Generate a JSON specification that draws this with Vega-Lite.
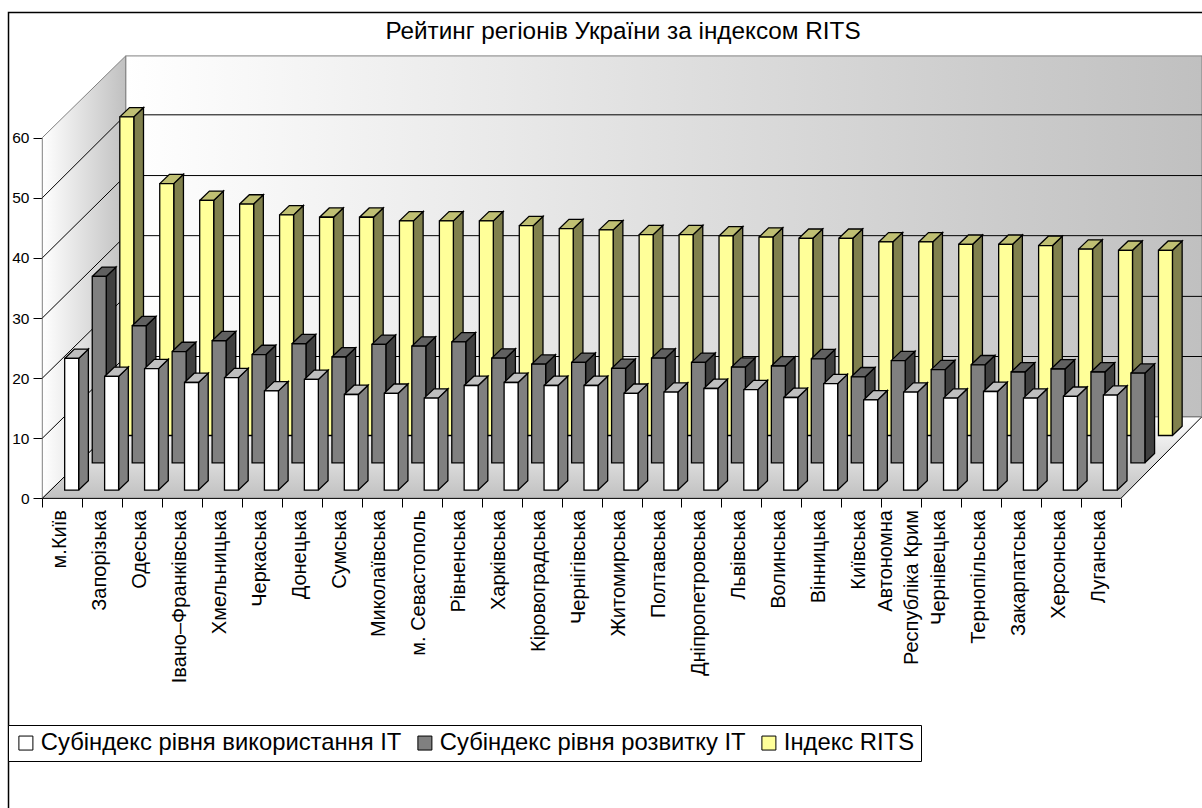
{"$schema":"https://vega.github.io/schema/vega-lite/v6.json","width":1202,"height":808,"autosize":{"type":"none"},"padding":0,"background":"white","config":{"view":{"stroke":null},"font":"Liberation Sans"},
"title":{"text":"Рейтинг регіонів України за індексом RITS","anchor":"middle","frame":"group","orient":"top","offset":-44,"dx":22,"font":"Liberation Sans","fontSize":24.3,"fontWeight":"normal","color":"black"},
"datasets":{
"walls":[
{"wall":"side","c":0,"u":0,"v":0},{"wall":"side","c":1,"u":0,"v":60},{"wall":"side","c":2,"u":2.088,"v":73.6},{"wall":"side","c":3,"u":2.088,"v":13.6},{"wall":"side","c":4,"u":0,"v":0},
{"wall":"back","c":0,"u":2.088,"v":13.6},{"wall":"back","c":1,"u":2.088,"v":73.6},{"wall":"back","c":2,"u":29.03,"v":73.6},{"wall":"back","c":3,"u":29.03,"v":13.6},{"wall":"back","c":4,"u":2.088,"v":13.6},
{"wall":"floor","c":0,"u":0,"v":0},{"wall":"floor","c":1,"u":2.088,"v":13.6},{"wall":"floor","c":2,"u":29.03,"v":13.6},{"wall":"floor","c":3,"u":27,"v":0},{"wall":"floor","c":4,"u":0,"v":0},
{"wall":"edge","c":0,"u":2.088,"v":13.6},{"wall":"edge","c":1,"u":29.03,"v":13.6},
{"wall":"frame","c":0,"u":-0.846,"v":-51.5},{"wall":"frame","c":1,"u":-0.846,"v":80.83},{"wall":"frame","c":2,"u":29.03,"v":80.83}
],
"grid":[
{"level":10,"c":0,"u":0,"v":10},{"level":10,"c":1,"u":2.088,"v":23.6},{"level":10,"c":2,"u":29.03,"v":23.6},
{"level":20,"c":0,"u":0,"v":20},{"level":20,"c":1,"u":2.088,"v":33.6},{"level":20,"c":2,"u":29.03,"v":33.6},
{"level":30,"c":0,"u":0,"v":30},{"level":30,"c":1,"u":2.088,"v":43.7},{"level":30,"c":2,"u":29.03,"v":43.7},
{"level":40,"c":0,"u":0,"v":40},{"level":40,"c":1,"u":2.088,"v":53.7},{"level":40,"c":2,"u":29.03,"v":53.7},
{"level":50,"c":0,"u":0,"v":50},{"level":50,"c":1,"u":2.088,"v":63.8},{"level":50,"c":2,"u":29.03,"v":63.8}
],
"bars":[
{"n":0,"region":"м.Київ","series":"Субіндекс рівня використання IT","value":21.9},{"n":0,"region":"м.Київ","series":"Субіндекс рівня розвитку IT","value":31.0},{"n":0,"region":"м.Київ","series":"Індекс RITS","value":53.0},
{"n":1,"region":"Запорізька","series":"Субіндекс рівня використання IT","value":18.9},{"n":1,"region":"Запорізька","series":"Субіндекс рівня розвитку IT","value":22.8},{"n":1,"region":"Запорізька","series":"Індекс RITS","value":41.9},
{"n":2,"region":"Одеська","series":"Субіндекс рівня використання IT","value":20.2},{"n":2,"region":"Одеська","series":"Субіндекс рівня розвитку IT","value":18.5},{"n":2,"region":"Одеська","series":"Індекс RITS","value":39.1},
{"n":3,"region":"Івано–Франківська","series":"Субіндекс рівня використання IT","value":17.9},{"n":3,"region":"Івано–Франківська","series":"Субіндекс рівня розвитку IT","value":20.3},{"n":3,"region":"Івано–Франківська","series":"Індекс RITS","value":38.5},
{"n":4,"region":"Хмельницька","series":"Субіндекс рівня використання IT","value":18.7},{"n":4,"region":"Хмельницька","series":"Субіндекс рівня розвитку IT","value":18.0},{"n":4,"region":"Хмельницька","series":"Індекс RITS","value":36.7},
{"n":5,"region":"Черкаська","series":"Субіндекс рівня використання IT","value":16.5},{"n":5,"region":"Черкаська","series":"Субіндекс рівня розвитку IT","value":19.8},{"n":5,"region":"Черкаська","series":"Індекс RITS","value":36.3},
{"n":6,"region":"Донецька","series":"Субіндекс рівня використання IT","value":18.4},{"n":6,"region":"Донецька","series":"Субіндекс рівня розвитку IT","value":17.6},{"n":6,"region":"Донецька","series":"Індекс RITS","value":36.3},
{"n":7,"region":"Сумська","series":"Субіндекс рівня використання IT","value":15.9},{"n":7,"region":"Сумська","series":"Субіндекс рівня розвитку IT","value":19.7},{"n":7,"region":"Сумська","series":"Індекс RITS","value":35.7},
{"n":8,"region":"Миколаївська","series":"Субіндекс рівня використання IT","value":16.1},{"n":8,"region":"Миколаївська","series":"Субіндекс рівня розвитку IT","value":19.4},{"n":8,"region":"Миколаївська","series":"Індекс RITS","value":35.7},
{"n":9,"region":"м. Севастополь","series":"Субіндекс рівня використання IT","value":15.3},{"n":9,"region":"м. Севастополь","series":"Субіндекс рівня розвитку IT","value":20.1},{"n":9,"region":"м. Севастополь","series":"Індекс RITS","value":35.7},
{"n":10,"region":"Рівненська","series":"Субіндекс рівня використання IT","value":17.4},{"n":10,"region":"Рівненська","series":"Субіндекс рівня розвитку IT","value":17.4},{"n":10,"region":"Рівненська","series":"Індекс RITS","value":34.9},
{"n":11,"region":"Харківська","series":"Субіндекс рівня використання IT","value":17.9},{"n":11,"region":"Харківська","series":"Субіндекс рівня розвитку IT","value":16.4},{"n":11,"region":"Харківська","series":"Індекс RITS","value":34.4},
{"n":12,"region":"Кіровоградська","series":"Субіндекс рівня використання IT","value":17.4},{"n":12,"region":"Кіровоградська","series":"Субіндекс рівня розвитку IT","value":16.7},{"n":12,"region":"Кіровоградська","series":"Індекс RITS","value":34.2},
{"n":13,"region":"Чернігівська","series":"Субіндекс рівня використання IT","value":17.4},{"n":13,"region":"Чернігівська","series":"Субіндекс рівня розвитку IT","value":15.7},{"n":13,"region":"Чернігівська","series":"Індекс RITS","value":33.4},
{"n":14,"region":"Житомирська","series":"Субіндекс рівня використання IT","value":16.1},{"n":14,"region":"Житомирська","series":"Субіндекс рівня розвитку IT","value":17.4},{"n":14,"region":"Житомирська","series":"Індекс RITS","value":33.4},
{"n":15,"region":"Полтавська","series":"Субіндекс рівня використання IT","value":16.3},{"n":15,"region":"Полтавська","series":"Субіндекс рівня розвитку IT","value":16.7},{"n":15,"region":"Полтавська","series":"Індекс RITS","value":33.2},
{"n":16,"region":"Дніпропетровська","series":"Субіндекс рівня використання IT","value":16.9},{"n":16,"region":"Дніпропетровська","series":"Субіндекс рівня розвитку IT","value":15.9},{"n":16,"region":"Дніпропетровська","series":"Індекс RITS","value":33.0},
{"n":17,"region":"Львівська","series":"Субіндекс рівня використання IT","value":16.7},{"n":17,"region":"Львівська","series":"Субіндекс рівня розвитку IT","value":16.1},{"n":17,"region":"Львівська","series":"Індекс RITS","value":32.8},
{"n":18,"region":"Волинська","series":"Субіндекс рівня використання IT","value":15.4},{"n":18,"region":"Волинська","series":"Субіндекс рівня розвитку IT","value":17.3},{"n":18,"region":"Волинська","series":"Індекс RITS","value":32.8},
{"n":19,"region":"Вінницька","series":"Субіндекс рівня використання IT","value":17.7},{"n":19,"region":"Вінницька","series":"Субіндекс рівня розвитку IT","value":14.3},{"n":19,"region":"Вінницька","series":"Індекс RITS","value":32.2},
{"n":20,"region":"Київська","series":"Субіндекс рівня використання IT","value":15.0},{"n":20,"region":"Київська","series":"Субіндекс рівня розвитку IT","value":17.0},{"n":20,"region":"Київська","series":"Індекс RITS","value":32.2},
{"n":21,"region":"Автономна\nРеспубліка Крим","series":"Субіндекс рівня використання IT","value":16.3},{"n":21,"region":"Автономна\nРеспубліка Крим","series":"Субіндекс рівня розвитку IT","value":15.5},{"n":21,"region":"Автономна\nРеспубліка Крим","series":"Індекс RITS","value":31.8},
{"n":22,"region":"Чернівецька","series":"Субіндекс рівня використання IT","value":15.3},{"n":22,"region":"Чернівецька","series":"Субіндекс рівня розвитку IT","value":16.3},{"n":22,"region":"Чернівецька","series":"Індекс RITS","value":31.8},
{"n":23,"region":"Тернопільська","series":"Субіндекс рівня використання IT","value":16.4},{"n":23,"region":"Тернопільська","series":"Субіндекс рівня розвитку IT","value":15.1},{"n":23,"region":"Тернопільська","series":"Індекс RITS","value":31.6},
{"n":24,"region":"Закарпатська","series":"Субіндекс рівня використання IT","value":15.3},{"n":24,"region":"Закарпатська","series":"Субіндекс рівня розвитку IT","value":15.6},{"n":24,"region":"Закарпатська","series":"Індекс RITS","value":31.0},
{"n":25,"region":"Херсонська","series":"Субіндекс рівня використання IT","value":15.6},{"n":25,"region":"Херсонська","series":"Субіндекс рівня розвитку IT","value":15.1},{"n":25,"region":"Херсонська","series":"Індекс RITS","value":30.8},
{"n":26,"region":"Луганська","series":"Субіндекс рівня використання IT","value":15.8},{"n":26,"region":"Луганська","series":"Субіндекс рівня розвитку IT","value":14.9},{"n":26,"region":"Луганська","series":"Індекс RITS","value":30.8}
]},
"resolve":{"axis":{"x":"independent","y":"independent"}},
"layer":[
{"data":{"name":"walls"},"transform":[{"filter":"datum.wall==='back'"}],"mark":{"type":"line","fill":{"gradient":"linear","x1":0,"y1":0,"x2":1,"y2":0,"stops":[{"offset":0,"color":"#ffffff"},{"offset":1,"color":"#c0c0c0"}]},"stroke":"#808080","strokeWidth":1},
"encoding":{"x":{"field":"u","type":"quantitative","scale":{"domain":[-1.059,29.03],"nice":false,"zero":false},"axis":{"values":[0,1,2,3,4,5,6,7,8,9,10,11,12,13,14,15,16,17,18,19,20,21,22,23,24,25,26,27],"labels":false,"domain":false,"grid":false,"title":null,"orient":"bottom","offset":-310,"tickSize":9,"tickColor":"black","tickWidth":1}},"y":{"field":"v","type":"quantitative","scale":{"domain":[-51.5,82.9],"nice":false,"zero":false},"axis":{"values":[0,10,20,30,40,50,60],"domain":false,"grid":false,"title":null,"orient":"left","offset":-42,"tickSize":9,"tickColor":"black","tickWidth":1,"labelFont":"Liberation Sans","labelFontSize":15.5,"labelColor":"black","labelPadding":4}},"order":{"field":"c"}}},
{"data":{"name":"walls"},"transform":[{"filter":"datum.wall==='side'"}],"mark":{"type":"line","fill":{"gradient":"linear","x1":0,"y1":0,"x2":1,"y2":0,"stops":[{"offset":0,"color":"#ffffff"},{"offset":1,"color":"#c0c0c0"}]},"stroke":"#808080","strokeWidth":1},"encoding":{"x":{"field":"u","type":"quantitative","axis":null},"y":{"field":"v","type":"quantitative","axis":null},"order":{"field":"c"}}},
{"data":{"name":"walls"},"transform":[{"filter":"datum.wall==='floor'"}],"mark":{"type":"line","fill":{"gradient":"linear","x1":0,"y1":0,"x2":0,"y2":1,"stops":[{"offset":0,"color":"#ffffff"},{"offset":1,"color":"#c0c0c0"}]},"stroke":"#000000","strokeWidth":1},"encoding":{"x":{"field":"u","type":"quantitative","axis":null},"y":{"field":"v","type":"quantitative","axis":null},"order":{"field":"c"}}},
{"data":{"name":"walls"},"transform":[{"filter":"datum.wall==='edge'"}],"mark":{"type":"line","stroke":"#808080","strokeWidth":1.2},"encoding":{"x":{"field":"u","type":"quantitative","axis":null},"y":{"field":"v","type":"quantitative","axis":null},"order":{"field":"c"}}},
{"data":{"name":"walls"},"transform":[{"filter":"datum.wall==='frame'"}],"mark":{"type":"line","stroke":"#000000","strokeWidth":1.5},"encoding":{"x":{"field":"u","type":"quantitative","axis":null},"y":{"field":"v","type":"quantitative","axis":null},"order":{"field":"c"}}},
{"data":{"name":"grid"},"mark":{"type":"line","stroke":"#000000","strokeWidth":1},"encoding":{"x":{"field":"u","type":"quantitative","axis":null},"y":{"field":"v","type":"quantitative","axis":null},"detail":{"field":"level"},"order":{"field":"c"}}},
{"data":{"name":"bars"},
"transform":[
{"calculate":"indexof(['Субіндекс рівня використання IT','Субіндекс рівня розвитку IT','Індекс RITS'],datum.series)","as":"s"},
{"calculate":"datum.n+0.56+0.69*datum.s","as":"x0"},
{"calculate":"datum.x0+0.35","as":"x1"},
{"calculate":"1.38+4.54*datum.s","as":"b"},
{"calculate":"datum.b+datum.value","as":"t"},
{"calculate":"[0,1,2,3,4]","as":"corners"},
{"flatten":["corners"],"as":["c"]},
{"calculate":"[datum.x1,datum.x1,datum.x1+0.243,datum.x1+0.243,datum.x1][datum.c]","as":"sx"},
{"calculate":"[datum.b,datum.t,datum.t+1.55,datum.b+1.55,datum.b][datum.c]","as":"sy"},
{"calculate":"[datum.x0,datum.x1,datum.x1+0.243,datum.x0+0.243,datum.x0][datum.c]","as":"tx"},
{"calculate":"[datum.t,datum.t,datum.t+1.55,datum.t+1.55,datum.t][datum.c]","as":"ty"}
],
"layer":[
{"transform":[{"filter":"datum.s===2"}],"mark":{"type":"line","fill":"#80804d","stroke":"#000","strokeWidth":1.3},"encoding":{"x":{"field":"sx","type":"quantitative","axis":null},"y":{"field":"sy","type":"quantitative","axis":null},"detail":{"field":"n"},"order":{"field":"c"}}},
{"transform":[{"filter":"datum.s===2"}],"mark":{"type":"line","fill":"#bfbf73","stroke":"#000","strokeWidth":1.3},"encoding":{"x":{"field":"tx","type":"quantitative","axis":null},"y":{"field":"ty","type":"quantitative","axis":null},"detail":{"field":"n"},"order":{"field":"c"}}},
{"transform":[{"filter":"datum.s===2&&datum.c===0"}],"mark":{"type":"rect","stroke":"#000","strokeWidth":1.3},"encoding":{"x":{"field":"x0","type":"quantitative","axis":null},"x2":{"field":"x1"},"y":{"field":"b","type":"quantitative","axis":null},"y2":{"field":"t"},"color":{"field":"series","type":"nominal","scale":{"domain":["Субіндекс рівня використання IT","Субіндекс рівня розвитку IT","Індекс RITS"],"range":["#ffffff","#808080","#ffff99"]},"legend":{"orient":"none","legendX":8,"legendY":725,"direction":"horizontal","columns":3,"title":null,"symbolType":"square","symbolSize":196,"symbolStrokeColor":"#000","symbolStrokeWidth":1,"labelFont":"Liberation Sans","labelFontSize":23.8,"labelColor":"black","labelLimit":500,"labelOffset":3,"columnPadding":11,"strokeColor":"#000","fillColor":"#fff","padding":6}}}},
{"transform":[{"filter":"datum.s===1"}],"mark":{"type":"line","fill":"#404040","stroke":"#000","strokeWidth":1.3},"encoding":{"x":{"field":"sx","type":"quantitative","axis":null},"y":{"field":"sy","type":"quantitative","axis":null},"detail":{"field":"n"},"order":{"field":"c"}}},
{"transform":[{"filter":"datum.s===1"}],"mark":{"type":"line","fill":"#606060","stroke":"#000","strokeWidth":1.3},"encoding":{"x":{"field":"tx","type":"quantitative","axis":null},"y":{"field":"ty","type":"quantitative","axis":null},"detail":{"field":"n"},"order":{"field":"c"}}},
{"transform":[{"filter":"datum.s===1&&datum.c===0"}],"mark":{"type":"rect","stroke":"#000","strokeWidth":1.3},"encoding":{"x":{"field":"x0","type":"quantitative","axis":null},"x2":{"field":"x1"},"y":{"field":"b","type":"quantitative","axis":null},"y2":{"field":"t"},"color":{"field":"series","type":"nominal"}}},
{"transform":[{"filter":"datum.s===0"}],"mark":{"type":"line","fill":"#808080","stroke":"#000","strokeWidth":1.3},"encoding":{"x":{"field":"sx","type":"quantitative","axis":null},"y":{"field":"sy","type":"quantitative","axis":null},"detail":{"field":"n"},"order":{"field":"c"}}},
{"transform":[{"filter":"datum.s===0"}],"mark":{"type":"line","fill":"#bfbfbf","stroke":"#000","strokeWidth":1.3},"encoding":{"x":{"field":"tx","type":"quantitative","axis":null},"y":{"field":"ty","type":"quantitative","axis":null},"detail":{"field":"n"},"order":{"field":"c"}}},
{"transform":[{"filter":"datum.s===0&&datum.c===0"}],"mark":{"type":"rect","stroke":"#000","strokeWidth":1.3},"encoding":{"x":{"field":"x0","type":"quantitative","axis":null},"x2":{"field":"x1"},"y":{"field":"b","type":"quantitative","axis":null},"y2":{"field":"t"},"color":{"field":"series","type":"nominal"}}},
{"transform":[{"filter":"datum.s===2&&datum.c===0"},{"calculate":"datum.n+(indexof(datum.region,'Крим')>=0?0.12:0.44)","as":"lx"}],"mark":{"type":"text","angle":270,"align":"right","baseline":"middle","font":"Liberation Sans","fontSize":20,"lineBreak":"\n","lineHeight":26,"color":"black"},"encoding":{"x":{"field":"lx","type":"quantitative","axis":null},"y":{"datum":-1.95,"type":"quantitative","axis":null},"text":{"field":"region"}}}
]}
]}
